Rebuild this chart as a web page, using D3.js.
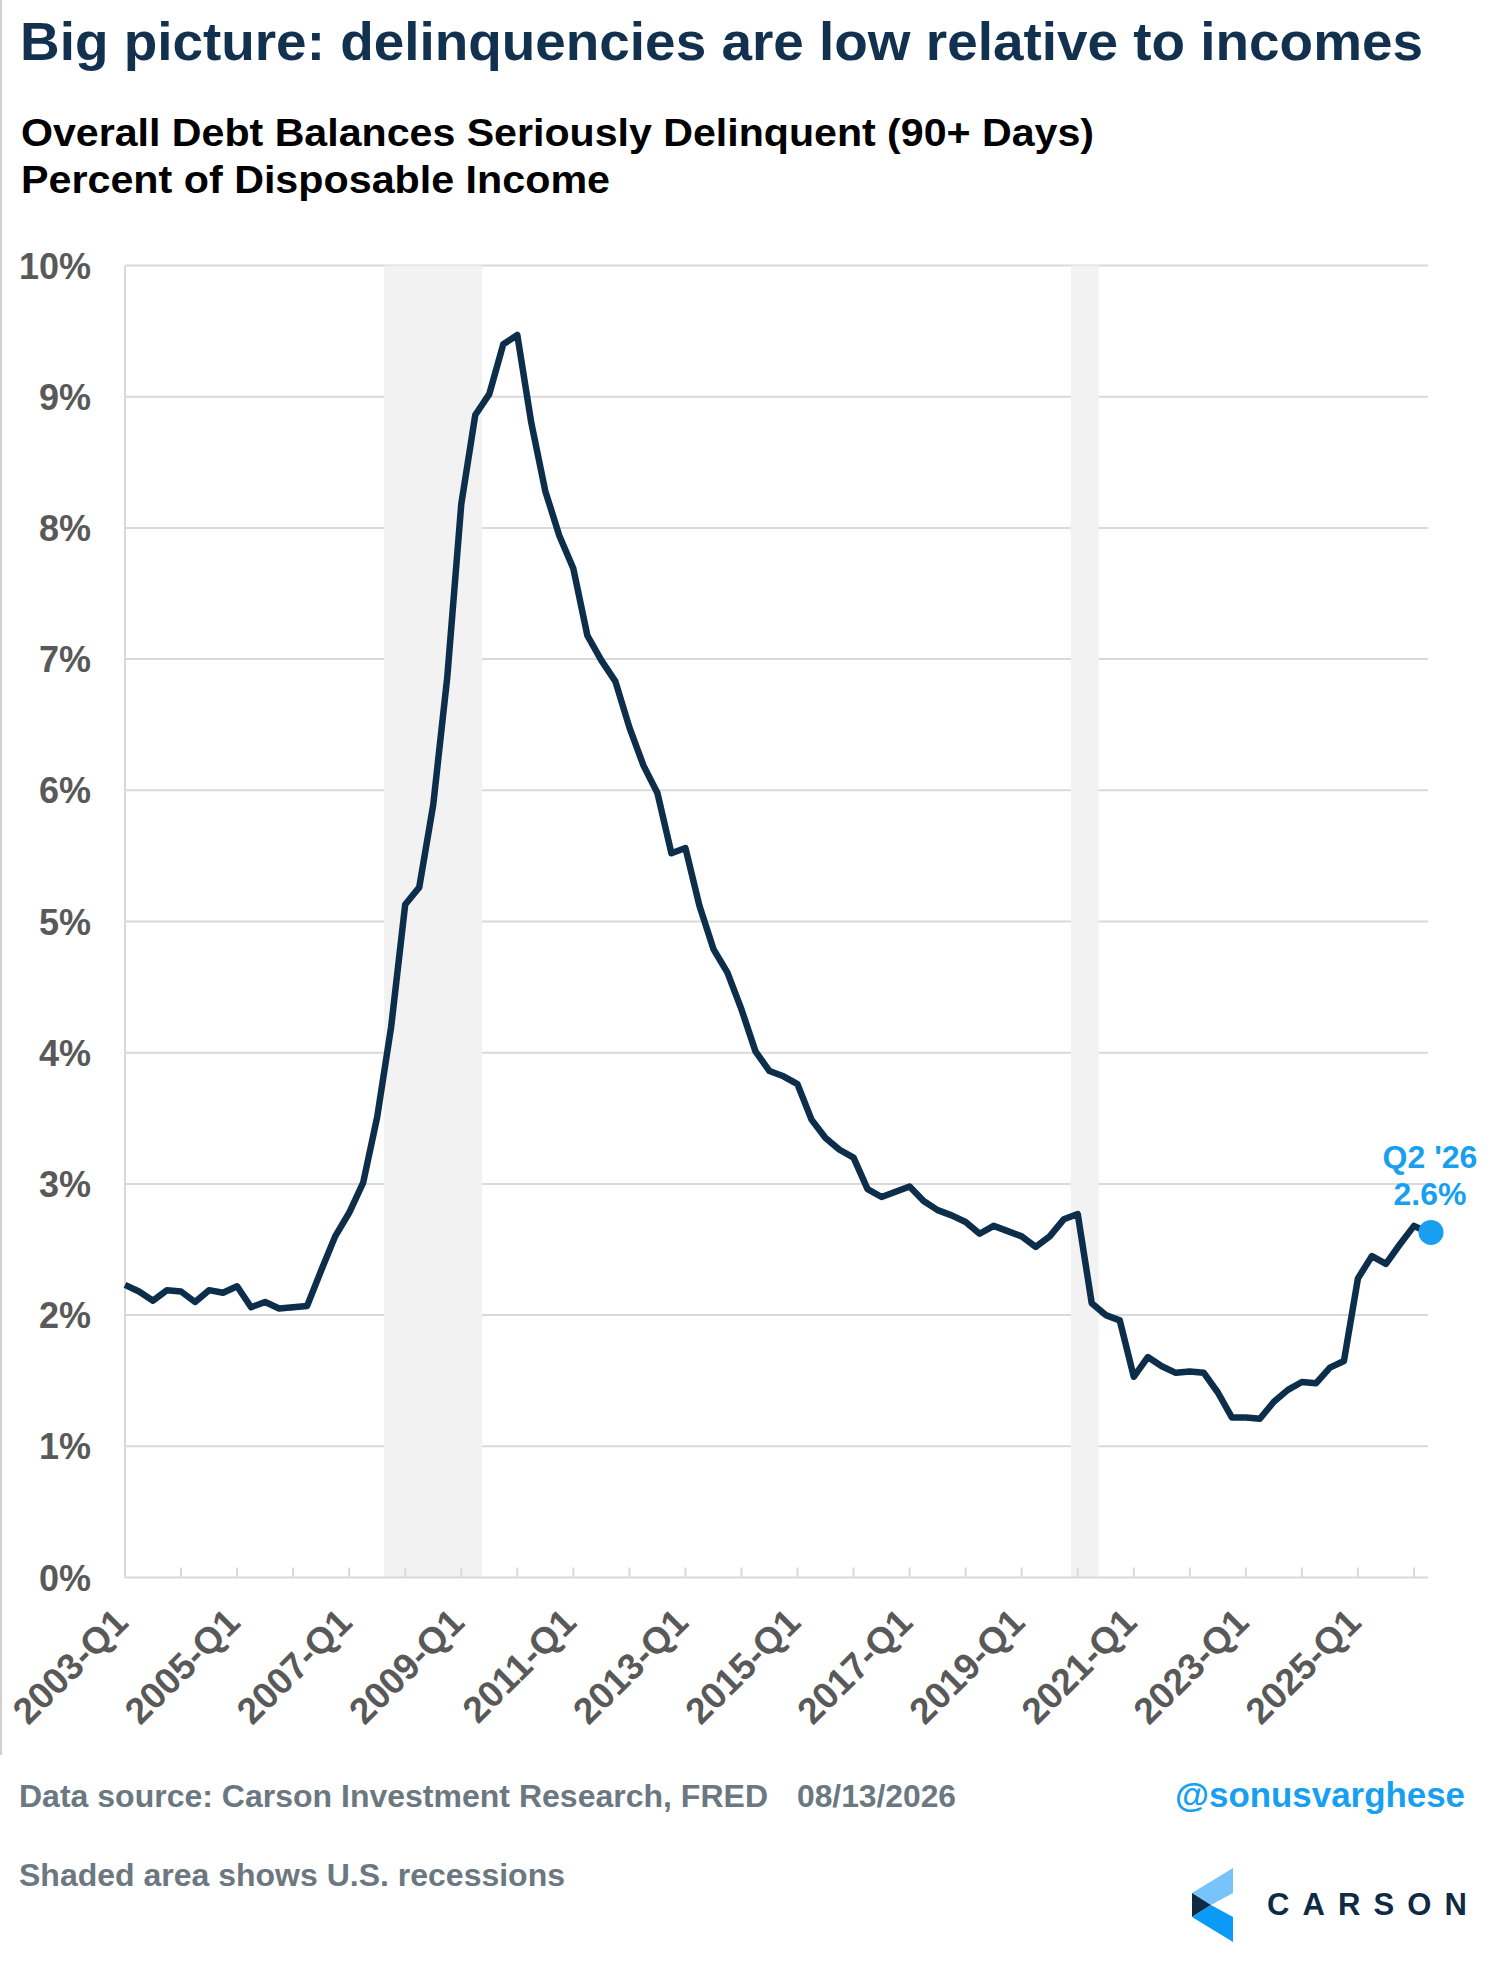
<html>
<head>
<meta charset="utf-8">
<title>Delinquencies relative to incomes</title>
<style>
  body { margin: 0; background: #fff; }
  text { font-family: "Liberation Sans", Arial, sans-serif; }
</style>
</head>
<body>
<script src="https://d3js.org/d3.v7.min.js"></script>
<script>
// quarters 2003-Q1 .. 2026-Q2
var categories = [
  "2003-Q1","2003-Q2","2003-Q3","2003-Q4","2004-Q1","2004-Q2","2004-Q3","2004-Q4",
  "2005-Q1","2005-Q2","2005-Q3","2005-Q4","2006-Q1","2006-Q2","2006-Q3","2006-Q4",
  "2007-Q1","2007-Q2","2007-Q3","2007-Q4","2008-Q1","2008-Q2","2008-Q3","2008-Q4",
  "2009-Q1","2009-Q2","2009-Q3","2009-Q4","2010-Q1","2010-Q2","2010-Q3","2010-Q4",
  "2011-Q1","2011-Q2","2011-Q3","2011-Q4","2012-Q1","2012-Q2","2012-Q3","2012-Q4",
  "2013-Q1","2013-Q2","2013-Q3","2013-Q4","2014-Q1","2014-Q2","2014-Q3","2014-Q4",
  "2015-Q1","2015-Q2","2015-Q3","2015-Q4","2016-Q1","2016-Q2","2016-Q3","2016-Q4",
  "2017-Q1","2017-Q2","2017-Q3","2017-Q4","2018-Q1","2018-Q2","2018-Q3","2018-Q4",
  "2019-Q1","2019-Q2","2019-Q3","2019-Q4","2020-Q1","2020-Q2","2020-Q3","2020-Q4",
  "2021-Q1","2021-Q2","2021-Q3","2021-Q4","2022-Q1","2022-Q2","2022-Q3","2022-Q4",
  "2023-Q1","2023-Q2","2023-Q3","2023-Q4","2024-Q1","2024-Q2","2024-Q3","2024-Q4",
  "2025-Q1","2025-Q2","2025-Q3","2025-Q4","2026-Q1","2026-Q2"
];
// % of disposable income, 90+ days delinquent
var values = [
  2.23, 2.18, 2.11, 2.19, 2.18, 2.10, 2.19, 2.17,
  2.22, 2.06, 2.10, 2.05, 2.06, 2.07, 2.34, 2.60,
  2.78, 3.01, 3.51, 4.20, 5.13, 5.26, 5.89, 6.86,
  8.18, 8.86, 9.02, 9.40, 9.47, 8.80, 8.28, 7.94,
  7.69, 7.18, 6.99, 6.83, 6.48, 6.19, 5.98, 5.52,
  5.56, 5.12, 4.79, 4.61, 4.33, 4.01, 3.86, 3.82,
  3.76, 3.49, 3.35, 3.26, 3.20, 2.96, 2.90, 2.94,
  2.98, 2.87, 2.80, 2.76, 2.71, 2.62, 2.68, 2.64,
  2.60, 2.52, 2.60, 2.73, 2.77, 2.09, 2.00, 1.96,
  1.53, 1.68, 1.61, 1.56, 1.57, 1.56, 1.41, 1.22,
  1.22, 1.21, 1.34, 1.43, 1.49, 1.48, 1.60, 1.65,
  2.28, 2.45, 2.39, 2.54, 2.68, 2.63
];
var xTickLabels = ["2003-Q1","2005-Q1","2007-Q1","2009-Q1","2011-Q1","2013-Q1",
                   "2015-Q1","2017-Q1","2019-Q1","2021-Q1","2023-Q1","2025-Q1"];
var yTicks = [0,1,2,3,4,5,6,7,8,9,10];
var recessions = [["2007-Q4","2009-Q2"],["2020-Q1","2020-Q2"]];
var lastLabel = ["Q2 '26", "2.6%"];

var W = 1503, H = 1980;
var plot = {left:125, right:1428, top:265.5, bottom:1577.5};
var navy = "#0d2e4b", grey = "#595959", blue = "#199ff0", foot = "#6b7781";

var svg = d3.select("body").append("svg").attr("width",W).attr("height",H);
svg.append("rect").attr("width",W).attr("height",H).attr("fill","#fff");
// thin frame line on the left
svg.append("line").attr("x1",1).attr("x2",1).attr("y1",0).attr("y2",1755)
  .attr("stroke","#d0d0d0").attr("stroke-width",2);

// helper for text stretched to the measured width
function label(xp, yp, str, size, col, len, anchor){
  var t = svg.append("text").attr("x",xp).attr("y",yp).text(str)
    .attr("font-size",size + "px").attr("font-weight","bold").attr("fill",col);
  if (anchor) t.attr("text-anchor",anchor);
  if (len) t.attr("textLength",len).attr("lengthAdjust","spacingAndGlyphs");
  return t;
}

// titles
label(20, 60, "Big picture: delinquencies are low relative to incomes", 54, "#12314f", 1403);
label(21, 146, "Overall Debt Balances Seriously Delinquent (90+ Days)", 39, "#000", 1073);
label(21, 193, "Percent of Disposable Income", 39, "#000", 589);

var x = d3.scalePoint().domain(categories).range([plot.left, plot.right]);
var y = d3.scaleLinear().domain([0,10]).range([plot.bottom, plot.top]);
var step = x.step();

// gridlines
svg.append("g").selectAll("line").data(yTicks.filter(function(d){return d>0;})).enter()
  .append("line")
  .attr("x1",plot.left).attr("x2",plot.right)
  .attr("y1",function(d){return y(d);}).attr("y2",function(d){return y(d);})
  .attr("stroke","#d9d9d9").attr("stroke-width",2);

// recession shading
svg.append("g").selectAll("rect").data(recessions).enter().append("rect")
  .attr("x",function(d){return x(d[0]) - step/2;})
  .attr("width",function(d){return x(d[1]) - x(d[0]) + step;})
  .attr("y",plot.top).attr("height",plot.bottom - plot.top)
  .attr("fill","#f2f2f2");

// axes lines
svg.append("line").attr("x1",plot.left).attr("x2",plot.left).attr("y1",plot.top).attr("y2",plot.bottom)
  .attr("stroke","#d9d9d9").attr("stroke-width",2);
svg.append("line").attr("x1",plot.left).attr("x2",plot.right).attr("y1",plot.bottom).attr("y2",plot.bottom)
  .attr("stroke","#d9d9d9").attr("stroke-width",2);
// yearly tick marks
svg.append("g").selectAll("line").data(categories.filter(function(d){return /Q1$/.test(d);})).enter()
  .append("line")
  .attr("x1",function(d){return x(d);}).attr("x2",function(d){return x(d);})
  .attr("y1",plot.bottom).attr("y2",plot.bottom - 10)
  .attr("stroke","#d9d9d9").attr("stroke-width",2);

// y labels
svg.append("g").selectAll("text").data(yTicks).enter().append("text")
  .attr("x",91).attr("y",function(d){return y(d) + 13;})
  .attr("text-anchor","end").text(function(d){return d + "%";})
  .attr("font-size","36px").attr("font-weight","bold").attr("fill",grey);

// x labels
svg.append("g").selectAll("text").data(xTickLabels).enter().append("text")
  .attr("transform",function(d){return "translate(" + (x(d) + 5) + "," + (plot.bottom + 47) + ") rotate(-45)";})
  .attr("text-anchor","end").text(function(d){return d;})
  .attr("font-size","37px").attr("font-weight","bold").attr("fill",grey);

// series line
var line = d3.line().x(function(d,i){return x(categories[i]);}).y(function(d){return y(d);});
svg.append("path").datum(values).attr("d",line)
  .attr("fill","none").attr("stroke",navy).attr("stroke-width",6.5).attr("stroke-linejoin","round");

// last point marker + label
var lastCat = categories[categories.length-1], lastVal = values[values.length-1];
svg.append("circle").attr("cx",x(lastCat) + 3).attr("cy",y(lastVal)).attr("r",12.5).attr("fill",blue);
svg.append("g").selectAll("text").data(lastLabel).enter().append("text")
  .attr("x",x(lastCat) + 2).attr("y",function(d,i){return 1168 + i*37;})
  .attr("text-anchor","middle").text(function(d){return d;})
  .attr("font-size","32px").attr("font-weight","bold").attr("fill",blue);

// footer
label(19, 1807, "Data source: Carson Investment Research, FRED", 32, foot, 749);
label(797, 1807, "08/13/2026", 32, foot, 159);
label(19, 1886, "Shaded area shows U.S. recessions", 32, foot, 546);
label(1465, 1807, "@sonusvarghese", 35, blue, 290, "end");

// Carson logo
var logo = svg.append("g");
logo.append("polygon").attr("points","1233,1868 1233,1893 1211,1905 1192,1893").attr("fill","#78c3fa");
logo.append("polygon").attr("points","1192,1893 1211,1905 1192,1917").attr("fill","#0e2a45");
logo.append("polygon").attr("points","1192,1917 1211,1905 1233,1917 1233,1942").attr("fill","#0b9af5");
logo.append("text").attr("x",1267).attr("y",1915).text("CARSON")
  .attr("font-family","Lato, 'Open Sans', sans-serif").attr("font-size","31px").attr("font-weight","bold")
  .attr("textLength",200).attr("lengthAdjust","spacing").attr("fill","#0e2a45");
</script>
</body>
</html>
